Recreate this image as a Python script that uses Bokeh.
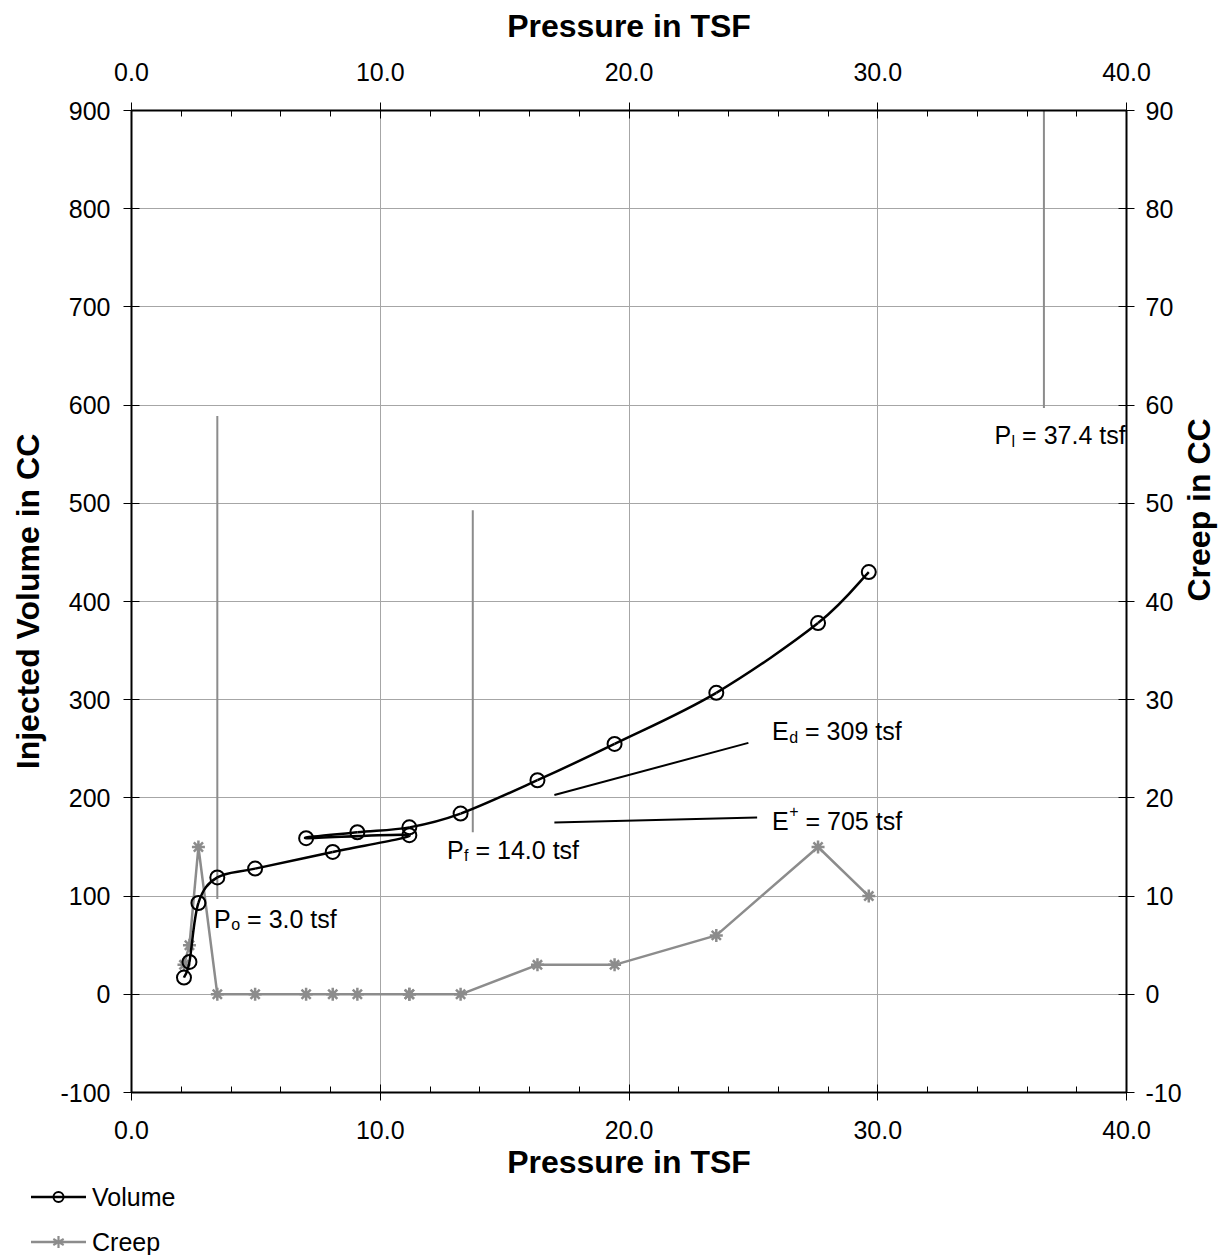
import math
from bokeh.plotting import figure
from bokeh.layouts import column
from bokeh.models import (LinearAxis, Range1d, SingleIntervalTicker, NumeralTickFormatter,
                          Label, Div)
from bokeh.embed import file_html
from bokeh.resources import INLINE

# ---------------- data ----------------
pressure = [2.11, 2.33, 2.69, 3.45, 4.97, 8.09, 11.17, 7.02, 9.08, 11.17, 13.23,
            16.32, 19.42, 23.51, 27.60, 29.64]
volume = [17, 33, 93, 119, 128, 145, 162, 159, 165, 170, 184, 218, 255, 307, 378, 430]
creep = [3, 5, 15, 0, 0, 0, 0, 0, 0, 0, 0, 3, 3, 6, 15, 10]
series_names = ["Volume", "Creep"]

# vertical reference lines (P_o, P_f, P_l)
ref_x = [3.45, 13.72, 36.68]
ref_y_low = [97, 165, 597]
ref_y_high = [589, 493, 900]

# modulus lines (E_d, E+)
mod_x0 = [17.0, 17.0]
mod_y0 = [203, 175]
mod_x1 = [24.8, 25.15]
mod_y1 = [256, 180]

# annotation labels
label_main = ["P", "P", "P", "E", "E"]
label_small = ["o", "f", "l", "d", "+"]
label_rest = ["= 3.0 tsf", "= 14.0 tsf", "= 37.4 tsf", "= 309 tsf", "= 705 tsf"]
label_x = [3.32, 12.68, 34.69, 25.75, 25.75]
label_y = [68, 138, 560, 258.5, 167]
label_sup = [False, False, False, False, True]

FONT = "Liberation Sans"
GRAY = "#8c8c8c"
GRID = "#a6a6a6"
MAIN_PX = 25
SUB_PX = 16

p = figure(frame_width=995, frame_height=982,
           x_range=Range1d(0, 40), y_range=Range1d(-100, 900),
           output_backend="svg", toolbar_location=None,
           min_border_left=131, min_border_right=95, min_border_top=110,
           min_border_bottom=90, background_fill_color="white",
           border_fill_color="white")
p.outline_line_color = None
p.extra_y_ranges = {"creep": Range1d(-10, 90)}

xticker = SingleIntervalTicker(interval=10, num_minor_ticks=5)
yticker = SingleIntervalTicker(interval=100, num_minor_ticks=0)
cticker = SingleIntervalTicker(interval=10, num_minor_ticks=0)

top = LinearAxis()
right = LinearAxis(y_range_name="creep")
p.add_layout(top, "above")
p.add_layout(right, "right")
bottom = p.below[0]
left = p.left[0]

for ax, tk in ((bottom, xticker), (top, xticker), (left, yticker), (right, cticker)):
    ax.ticker = tk
    ax.axis_line_color = "black"
    ax.axis_line_width = 2
    ax.major_tick_in = 8
    ax.major_tick_out = 8
    ax.major_tick_line_color = "black"
    ax.major_tick_line_width = 1
    ax.minor_tick_in = 6
    ax.minor_tick_out = 0
    ax.minor_tick_line_color = "black"
    ax.major_label_text_font = FONT
    ax.major_label_text_font_size = "25px"
    ax.major_label_text_color = "black"
    ax.axis_label_text_font = FONT
    ax.axis_label_text_font_style = "bold"
    ax.axis_label_text_font_size = "32px"
    ax.axis_label_text_color = "black"

for ax in (bottom, top):
    ax.formatter = NumeralTickFormatter(format="0.0")
    ax.axis_label = "Pressure in TSF"
bottom.major_label_standoff = 20
bottom.axis_label_standoff = 2
top.major_label_standoff = 22
top.axis_label_standoff = 16

left.formatter = NumeralTickFormatter(format="0")
right.formatter = NumeralTickFormatter(format="0")
left.axis_label = "Injected Volume in CC"
left.major_label_standoff = 13
left.axis_label_standoff = 11
right.axis_label = "Creep in CC"
right.major_label_standoff = 11
right.axis_label_standoff = 14
try:
    right.axis_label_orientation = math.pi / 2
except Exception:
    pass

p.xgrid.ticker = xticker
p.ygrid.ticker = yticker
p.xgrid.grid_line_color = GRID
p.ygrid.grid_line_color = GRID
p.xgrid.grid_line_width = 1
p.ygrid.grid_line_width = 1

# reference lines
p.segment(x0=ref_x, y0=ref_y_low, x1=ref_x, y1=ref_y_high, line_color=GRAY, line_width=2)
p.segment(x0=mod_x0, y0=mod_y0, x1=mod_x1, y1=mod_y1, line_color="black", line_width=2)

# creep series
p.line(pressure, creep, y_range_name="creep", line_color=GRAY, line_width=2.5)
p.scatter(pressure, creep, y_range_name="creep", marker="asterisk", size=13,
          line_color=GRAY, line_width=2.5)

# volume series: smoothed curve through the points (Catmull-Rom -> Bezier)
n = len(pressure)
bx0, by0, bx1, by1, cx0, cy0, cx1, cy1 = [], [], [], [], [], [], [], []
for i in range(n - 1):
    xa, ya = pressure[max(i - 1, 0)], volume[max(i - 1, 0)]
    xb, yb = pressure[i], volume[i]
    xc, yc = pressure[i + 1], volume[i + 1]
    xd, yd = pressure[min(i + 2, n - 1)], volume[min(i + 2, n - 1)]
    bx0.append(xb); by0.append(yb); bx1.append(xc); by1.append(yc)
    cx0.append(xb + (xc - xa) / 6.0); cy0.append(yb + (yc - ya) / 6.0)
    cx1.append(xc - (xd - xb) / 6.0); cy1.append(yc - (yd - yb) / 6.0)
p.bezier(x0=bx0, y0=by0, x1=bx1, y1=by1, cx0=cx0, cy0=cy0, cx1=cx1, cy1=cy1,
         line_color="black", line_width=2.5)
p.scatter(pressure, volume, marker="circle", size=14, fill_color=None,
          line_color="black", line_width=2)

# annotations with sub/superscripts
MAIN_W = 0.667 * MAIN_PX
SPACE_W = 0.278 * MAIN_PX
SMALL_W = {"o": 0.556, "f": 0.278, "l": 0.222, "d": 0.556, "+": 0.584}
RAISE = 9
for mtxt, stxt, rtxt, lx, ly, sup in zip(label_main, label_small, label_rest,
                                         label_x, label_y, label_sup):
    p.add_layout(Label(x=lx, y=ly, y_offset=RAISE, text=mtxt, text_font=FONT,
                       text_font_size=f"{MAIN_PX}px", text_color="black",
                       text_baseline="alphabetic"))
    p.add_layout(Label(x=lx, y=ly, x_offset=MAIN_W + 0.5,
                       y_offset=RAISE + (10 if sup else -6),
                       text=stxt, text_font=FONT, text_font_size=f"{SUB_PX}px",
                       text_color="black", text_baseline="alphabetic"))
    p.add_layout(Label(x=lx, y=ly, x_offset=MAIN_W + SMALL_W[stxt] * SUB_PX + SPACE_W + 0.5,
                       y_offset=RAISE, text=rtxt, text_font=FONT,
                       text_font_size=f"{MAIN_PX}px", text_color="black",
                       text_baseline="alphabetic"))

# legend strip below the chart (keys + series names)
vol_key = ('<svg width="55" height="20" style="position:absolute;left:31px;top:5px">'
           '<line x1="0" y1="10" x2="55" y2="10" stroke="black" stroke-width="2.5"/>'
           '<circle cx="27.5" cy="10" r="5" fill="none" stroke="black" stroke-width="2"/>'
           '</svg>')
creep_key = ('<svg width="55" height="20" style="position:absolute;left:31px;top:50px">'
             f'<line x1="0" y1="10" x2="55" y2="10" stroke="{GRAY}" stroke-width="2.5"/>'
             f'<g stroke="{GRAY}" stroke-width="2.2">'
             '<line x1="27.5" y1="4" x2="27.5" y2="16"/>'
             '<line x1="22.3" y1="7" x2="32.7" y2="13"/>'
             '<line x1="22.3" y1="13" x2="32.7" y2="7"/></g>'
             '</svg>')
label_style = (f"position:absolute;left:92px;font-family:'{FONT}';font-size:25px;"
               "line-height:30px;color:black;white-space:nowrap;")
legend_html = ('<div style="position:relative;width:1221px;height:73px;">'
               + vol_key
               + f'<span style="{label_style}top:0px">{series_names[0]}</span>'
               + creep_key
               + f'<span style="{label_style}top:45px">{series_names[1]}</span>'
               + '</div>')
legend_div = Div(text=legend_html, width=1221, height=73, margin=0)

layout = column(p, legend_div, spacing=0)
open("out.html", "w").write(file_html(layout, INLINE))
